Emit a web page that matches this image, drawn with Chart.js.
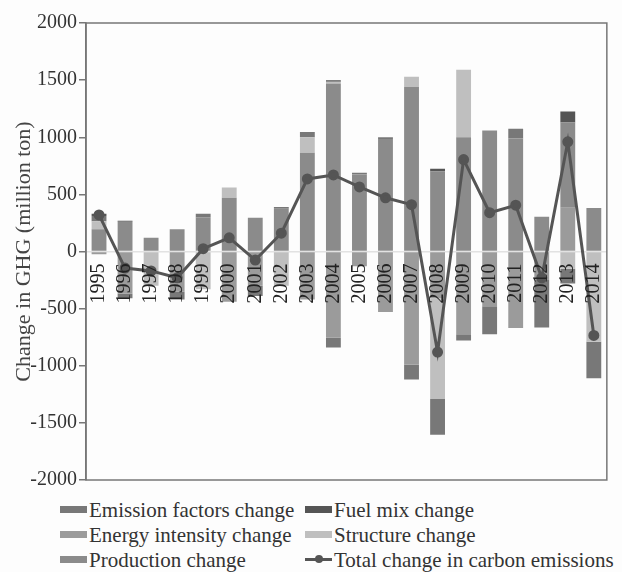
<!DOCTYPE html>
<html>
<head>
<meta charset="utf-8">
<script src="https://cdn.jsdelivr.net/npm/chart.js"></script>
<style>
  body { margin: 0; background: #fdfdfd; }
  #wrap { position: relative; width: 622px; height: 572px; }
  #chartBox { position: absolute; left: 0; top: 0; width: 622px; height: 494px; }
  #legend { position: absolute; left: 60px; top: 498px; width: 560px;
    font-family: 'Liberation Serif', Tinos, 'Times New Roman', 'DejaVu Serif', serif; font-size: 21px; color: #333; }
  .item { position: absolute; height: 25px; line-height: 25px; white-space: nowrap; display: flex; align-items: center; }
  .swatch { width: 27px; height: 7px; margin-right: 2px; margin-top: -3px; position: relative; }
  .lineSwatch { height: 3px; }
  .lineSwatch::after { content: ''; position: absolute; left: 10px; top: -3px; width: 8px; height: 8px; border-radius: 50%; background: #555; }
</style>
</head>
<body>
<div id="wrap">
  <div id="chartBox"><canvas id="ghgChart"></canvas></div>
  <div id="legend"></div>
</div>
<script>
const years = ['1995', '1996', '1997', '1998', '1999', '2000', '2001', '2002', '2003', '2004',
  '2005', '2006', '2007', '2008', '2009', '2010', '2011', '2012', '2013', '2014']

const energyIntensity = [-25, -370, 0, -350, 0, -440, -300, 0, -420, -755, -130, -530, -990, -410, -725, -480, -670, -250, 382, 0]
const production = [195, 260, 120, 195, 300, 470, 295, 375, 865, 1470, 675, 985, 1440, 700, 1000, 1060, 990, 305, 748, 380]
const structure = [70, 0, -300, 0, -330, 90, 0, -300, 135, 15, 0, 0, 90, -880, 590, 0, 0, 0, -150, -790]
const emissionFactors = [45, -40, 0, -70, 30, 0, -90, 15, 45, -85, 15, 15, -130, -315, -55, -245, 85, -415, -130, -320]
const fuelMix = [20, 10, 0, 0, 0, 0, 0, 0, 0, 15, 0, 0, 0, 25, 0, 0, 0, 0, 95, 0]
const totalChange = [320, -145, -170, -230, 25, 120, -75, 160, 635, 670, 565, 470, 410, -880, 805, 340, 405, -230, 960, -735]

const yTicks = [-2000, -1500, -1000, -500, 0, 500, 1000, 1500, 2000]

// legend is laid out column by column, like the figure
const legendOrder = ['Emission factors change', 'Energy intensity change', 'Production change',
  'Fuel mix change', 'Structure change', 'Total change in carbon emissions']

Chart.defaults.font.family = "'Liberation Serif', Tinos, 'Times New Roman', 'DejaVu Serif', serif"
Chart.defaults.color = '#333'

const frame = {
  id: 'frame',
  afterDraw (chart) {
    const { ctx, chartArea: a } = chart
    ctx.save()
    ctx.strokeStyle = '#777'
    ctx.lineWidth = 1.5
    ctx.strokeRect(a.left, a.top, a.right - a.left, a.bottom - a.top)
    ctx.restore()
  }
}

function bar (label, data, color) {
  return { type: 'bar', label, data, backgroundColor: color, borderWidth: 0, stack: 'ghg', order: 2 }
}

const chart = new Chart(document.getElementById('ghgChart'), {
  data: {
    labels: years,
    datasets: [
      {
        type: 'line',
        label: 'Total change in carbon emissions',
        data: totalChange,
        borderColor: '#555',
        backgroundColor: '#555',
        borderWidth: 3,
        pointRadius: 4,
        pointHoverRadius: 4,
        order: 1
      },
      bar('Energy intensity change', energyIntensity, '#9b9b9b'),
      bar('Production change', production, '#8b8b8b'),
      bar('Structure change', structure, '#bfbfbf'),
      bar('Emission factors change', emissionFactors, '#787878'),
      bar('Fuel mix change', fuelMix, '#555555')
    ]
  },
  options: {
    responsive: true,
    maintainAspectRatio: false,
    animation: false,
    layout: { padding: { top: 23, right: 3, bottom: 14, left: 0 } },
    datasets: { bar: { barPercentage: 0.57, categoryPercentage: 1 } },
    plugins: { legend: { display: false }, tooltip: { enabled: false } },
    scales: {
      x: {
        position: { y: 0 },
        stacked: true,
        grid: { display: false },
        border: { color: '#e2e2e2', width: 1.5 },
        ticks: { z: 1, autoSkip: false, minRotation: 90, maxRotation: 90, padding: 4, color: '#222', font: { size: 20 } }
      },
      y: {
        stacked: true,
        min: -2000,
        max: 2000,
        afterBuildTicks: (scale) => { scale.ticks = yTicks.map(v => ({ value: v })) },
        afterFit: (scale) => { scale.width = 86 },
        grid: { drawOnChartArea: false, tickLength: 7, color: '#777', lineWidth: 1.5 },
        border: { color: '#777', width: 1.5 },
        ticks: { padding: 2, color: '#333', font: { size: 20 }, callback: (v) => String(v) },
        title: { display: true, text: 'Change in GHG (million ton)', color: '#444', font: { size: 22 }, padding: { top: 11, bottom: 0 } }
      }
    }
  },
  plugins: [frame]
})

const legend = document.getElementById('legend')
legendOrder.forEach((name, i) => {
  const ds = chart.data.datasets.find(d => d.label === name)
  const item = document.createElement('div')
  item.className = 'item'
  item.style.left = (i < 3 ? 0 : 245) + 'px'
  item.style.top = (i % 3) * 25 + 'px'
  const sw = document.createElement('span')
  sw.className = ds.type === 'line' ? 'swatch lineSwatch' : 'swatch'
  sw.style.background = ds.type === 'line' ? ds.borderColor : ds.backgroundColor
  item.appendChild(sw)
  item.appendChild(document.createTextNode(name))
  legend.appendChild(item)
})
</script>
</body>
</html>
